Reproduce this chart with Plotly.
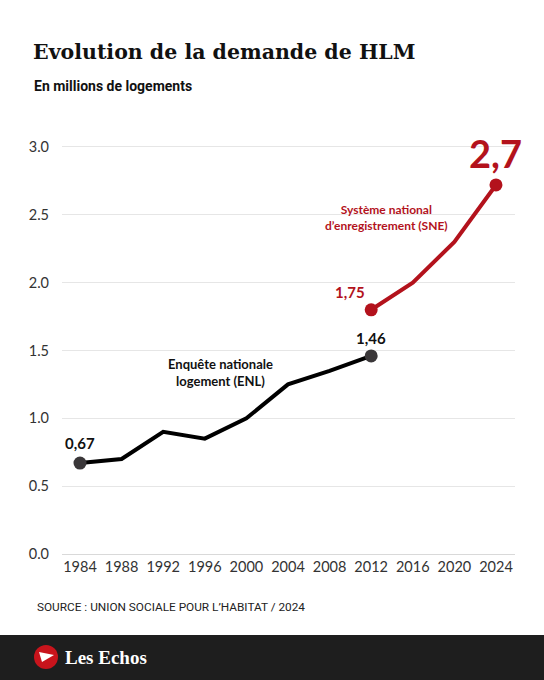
import plotly.graph_objects as go

# Enquête nationale logement (ENL)
enl_years = [1984, 1988, 1992, 1996, 2000, 2004, 2008, 2012]
enl_values = [0.67, 0.70, 0.90, 0.85, 1.00, 1.25, 1.35, 1.46]

# Système national d'enregistrement (SNE)
sne_years = [2012, 2016, 2020, 2024]
sne_values = [1.80, 2.00, 2.30, 2.72]

x_ticks = list(range(1984, 2025, 4))
y_ticks = [0.0, 0.5, 1.0, 1.5, 2.0, 2.5, 3.0]

RED = "#b3121c"
BODY_FONT = "Lato"

W, H = 544, 680
L, R, T, B = 62, 29, 130, 126
PW, PH = W - L - R, H - T - B


def px(x):
    # figure pixel -> paper x
    return (x - L) / PW


def py(y):
    # figure pixel -> paper y
    return (H - B - y) / PH


fig = go.Figure()

fig.add_trace(go.Scatter(
    x=enl_years, y=enl_values, mode="lines",
    line=dict(color="#000000", width=4), hoverinfo="skip"))
fig.add_trace(go.Scatter(
    x=[enl_years[0], enl_years[-1]], y=[enl_values[0], enl_values[-1]],
    mode="markers", marker=dict(color="#3a3739", size=13), hoverinfo="skip"))

fig.add_trace(go.Scatter(
    x=sne_years, y=sne_values, mode="lines",
    line=dict(color=RED, width=4), hoverinfo="skip"))
fig.add_trace(go.Scatter(
    x=[sne_years[0], sne_years[-1]], y=[sne_values[0], sne_values[-1]],
    mode="markers", marker=dict(color=RED, size=13), hoverinfo="skip"))

annotations = [
    # value labels
    dict(x=enl_years[0], y=enl_values[0], text="<b>0,67</b>", yshift=20,
         font=dict(size=15, color="#111111", family=BODY_FONT)),
    dict(x=enl_years[-1], y=enl_values[-1], text="<b>1,46</b>", yshift=18,
         font=dict(size=15, color="#111111", family=BODY_FONT)),
    dict(x=sne_years[0], y=sne_values[0], text="<b>1,75</b>", yshift=18, xshift=-21,
         font=dict(size=15, color=RED, family=BODY_FONT)),
    dict(x=sne_years[-1], y=sne_values[-1], text="<b>2,7</b>", yshift=32,
         font=dict(size=38, color=RED, family=BODY_FONT)),
    # series labels
    dict(x=2013.5, y=2.48, text="<b>Système national<br>d’enregistrement (SNE)</b>",
         font=dict(size=12, color=RED, family=BODY_FONT), align="center"),
    dict(x=1997.5, y=1.34, text="<b>Enquête nationale<br>logement (ENL)</b>",
         font=dict(size=13, color="#111111", family=BODY_FONT), align="center"),
    # titles, source and logo (pixel placement)
    dict(xref="paper", yref="paper", x=px(31), y=py(52), xanchor="left", yanchor="middle",
         text="<b>Evolution de la demande de HLM</b>",
         font=dict(size=20.5, color="#111111", family="DejaVu Serif")),
    dict(xref="paper", yref="paper", x=px(32), y=py(86), xanchor="left", yanchor="middle",
         text="<b>En millions de logements</b>",
         font=dict(size=14, color="#111111", family="Roboto")),
    dict(xref="paper", yref="paper", x=px(35), y=py(607), xanchor="left", yanchor="middle",
         text="SOURCE : UNION SOCIALE POUR L’HABITAT / 2024",
         font=dict(size=11.8, color="#222222", family="Roboto")),
    dict(xref="paper", yref="paper", x=px(63), y=py(657), xanchor="left", yanchor="middle",
         text="<b>Les Echos</b>",
         font=dict(size=19, color="#ffffff", family="Liberation Serif")),
]
for a in annotations:
    a["showarrow"] = False

shapes = [
    dict(type="rect", xref="paper", yref="paper",
         x0=px(0), x1=px(W), y0=py(H), y1=py(635),
         fillcolor="#1e1e1e", line=dict(width=0), layer="below"),
    dict(type="circle", xref="paper", yref="paper",
         x0=px(34), x1=px(58), y0=py(669), y1=py(645),
         fillcolor="#c8141c", line=dict(width=0)),
    dict(type="path", xref="paper", yref="paper",
         path="M {} {} L {} {} L {} {} Z".format(
             px(39), py(652), px(54), py(655), px(42), py(662)),
         fillcolor="#ffffff", line=dict(width=0)),
]

fig.update_layout(
    width=W, height=H,
    margin=dict(l=L, r=R, t=T, b=B),
    paper_bgcolor="#ffffff", plot_bgcolor="#ffffff",
    showlegend=False,
    annotations=annotations,
    shapes=shapes,
    xaxis=dict(
        range=[1982.27, 2025.83], tickvals=x_ticks, showgrid=False, zeroline=False,
        showline=False, ticks="", ticklabelstandoff=2,
        tickfont=dict(size=14.5, color="#333333", family=BODY_FONT)),
    yaxis=dict(
        range=[0, 3.125], tickvals=y_ticks, tickformat=".1f",
        showgrid=True, gridcolor="#e6e6e6", gridwidth=1,
        zeroline=True, zerolinecolor="#d9d9d9", zerolinewidth=1,
        showline=False, ticks="", ticklabelstandoff=12,
        tickfont=dict(size=14.5, color="#333333", family=BODY_FONT)),
)

fig.write_html(
    "out.html",
    config={"displayModeBar": False},
    post_script="document.body.style.margin='0';document.body.style.overflow='hidden';",
)
